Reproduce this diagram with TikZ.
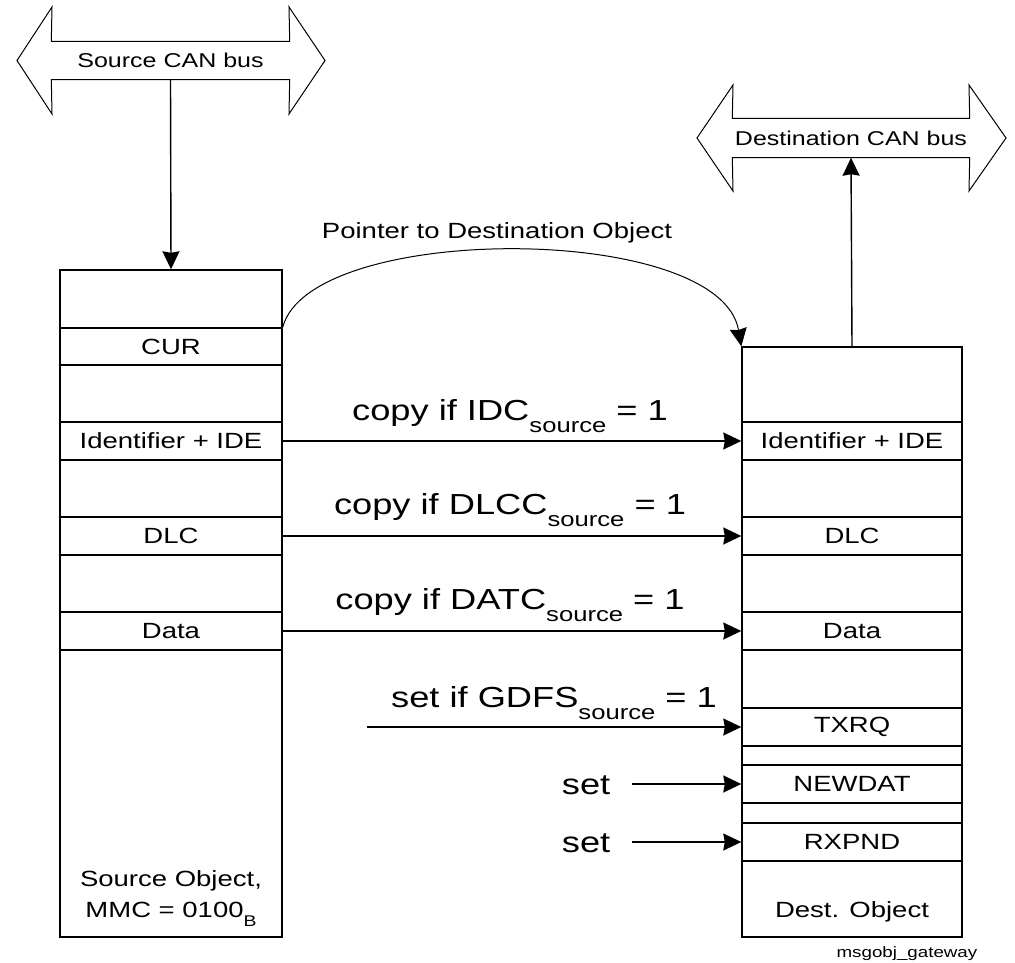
\documentclass[tikz,border=0pt]{standalone}
\usepackage{fontspec}
\setmainfont[FakeStretch=1.25]{Liberation Sans}
\usetikzlibrary{arrows.meta}
\newcommand\lowsub[2]{\raisebox{-0.42em}{\fontsize{#1}{#1}\selectfont #2}}
\begin{document}
\begin{tikzpicture}[x=1pt,y=-1pt,line width=1.4pt,
  rowbox/.style={draw,inner sep=0pt,minimum height=38pt,font=\fontsize{22}{26}\selectfont},
  srow/.style={rowbox,minimum width=222pt},
  drow/.style={rowbox,minimum width=220pt},
  objbox/.style={draw,inner sep=0pt},
  buslbl/.style={inner sep=0pt,font=\fontsize{20}{24}\selectfont},
  buspoly/.style={line width=1pt,line join=miter},
  biglbl/.style={inner sep=0pt,font=\fontsize{29}{34}\selectfont},
  midlbl/.style={inner sep=0pt,font=\fontsize{22}{26}\selectfont},
  arr/.style={-{Stealth[length=18pt,width=17pt,inset=1.5pt]}}]
\useasboundingbox (0,0) rectangle (1015,963);

% buses
\node[buslbl,minimum width=237pt,minimum height=37pt] (srcbus) at (170.5,60.5) {Source CAN bus};
\draw[buspoly] (srcbus.north west) -- (52,7) -- (17,60.5) -- (52,114) -- (srcbus.south west)
  -- (srcbus.south east) -- (289,114) -- (325,60.5) -- (289,7) -- (srcbus.north east) -- cycle;
\node[buslbl,minimum width=236pt,minimum height=38pt] (dstbus) at (851,138) {Destination CAN bus};
\draw[buspoly] (dstbus.north west) -- (733,85) -- (697,138) -- (733,191) -- (dstbus.south west)
  -- (dstbus.south east) -- (969,191) -- (1006,138) -- (969,85) -- (dstbus.north east) -- cycle;

% source object
\node[objbox,minimum width=222pt,minimum height=667pt] (src) at (171,603.5) {};
\node[srow,minimum height=37pt] (cur) at (171,346.5) {CUR};
\node[srow] (sident) at (171,441) {Identifier + IDE};
\node[srow] (sdlc) at (171,536) {DLC};
\node[srow] (sdata) at (171,631) {Data};
\node[midlbl,align=center,anchor=base] (srcname) at (171,917) {Source Object,\\[5pt]MMC = 0100\lowsub{15.5}{B}};

% destination object
\node[objbox,minimum width=220pt,minimum height=590pt] (dst) at (852,642) {};
\node[drow] (dident) at (852,441) {Identifier + IDE};
\node[drow] (ddlc) at (852,536) {DLC};
\node[drow] (ddata) at (852,631) {Data};
\node[drow] (txrq) at (852,727) {TXRQ};
\node[drow] (newdat) at (852,784) {NEWDAT};
\node[drow] (rxpnd) at (852,842) {RXPND};
\node[midlbl,anchor=base] (dstname) at (852,917) {Dest. Object};

% bus connections
\draw[arr] (srcbus.south) -- (src.north);
\draw[arr] (dst.north) -- (dstbus.south);

% pointer
\draw[arr,line width=1pt] (cur.north east) .. controls (310,222) and (720,222) .. (dst.north west);
\node[midlbl,anchor=base] (ptrlbl) at (497,238) {Pointer to Destination Object};

% copy arrows
\draw[arr] (sident.east) -- (dident.west);
\node[biglbl,anchor=base] (l1) at (510,420) {copy if IDC\lowsub{20.5}{source} = 1};
\draw[arr] (sdlc.east) -- (ddlc.west);
\node[biglbl,anchor=base] (l2) at (510,514) {copy if DLCC\lowsub{20.5}{source} = 1};
\draw[arr] (sdata.east) -- (ddata.west);
\node[biglbl,anchor=base] (l3) at (510,609) {copy if DATC\lowsub{20.5}{source} = 1};

% set arrows
\coordinate (gstart) at (367,727);
\draw[arr] (gstart) -- (txrq.west);
\node[biglbl,anchor=base] (l4) at (554,707) {set if GDFS\lowsub{20.5}{source} = 1};
\node[biglbl,anchor=base east] (s1) at (611,794) {set};
\draw[arr] (632,784) -- (newdat.west);
\node[biglbl,anchor=base east] (s2) at (611,852) {set};
\draw[arr] (632,842) -- (rxpnd.west);

\node[inner sep=0pt,anchor=base east,font=\fontsize{15}{18}\selectfont] (fig) at (978,957) {msgobj\_gateway};
\end{tikzpicture}
\end{document}
